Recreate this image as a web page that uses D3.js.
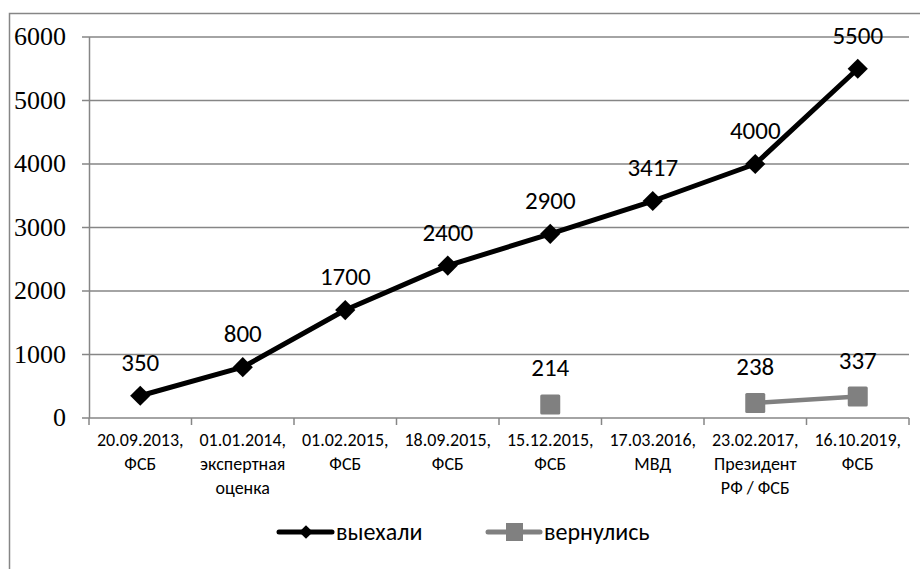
<!DOCTYPE html>
<html>
<head>
<meta charset="utf-8">
<script src="https://d3js.org/d3.v7.min.js"></script>
<style>
  body { margin: 0; background: #fff; }
  svg { display: block; }
</style>
</head>
<body>
<div id="chart"></div>
<script>
// categories (date, source) and the two series
var categories = [
  ["20.09.2013,", "ФСБ"],
  ["01.01.2014,", "экспертная", "оценка"],
  ["01.02.2015,", "ФСБ"],
  ["18.09.2015,", "ФСБ"],
  ["15.12.2015,", "ФСБ"],
  ["17.03.2016,", "МВД"],
  ["23.02.2017,", "Президент", "РФ / ФСБ"],
  ["16.10.2019,", "ФСБ"]
];
var left = [350, 800, 1700, 2400, 2900, 3417, 4000, 5500];
var returned = [null, null, null, null, 214, null, 238, 337];
var yTicks = [0, 1000, 2000, 3000, 4000, 5000, 6000];
var seriesNames = ["выехали", "вернулись"];

var SERIF = "Liberation Serif";
var SANS = "Carlito";

var W = 920, H = 569;
var svg = d3.select("#chart").append("svg")
  .attr("width", W).attr("height", H);

// outer frame (only left and top visible)
svg.append("path")
  .attr("d", "M9.5," + H + "V13.5H" + W)
  .attr("fill", "none").attr("stroke", "#868686").attr("stroke-width", 1.5);

var x = d3.scaleBand().domain(d3.range(categories.length)).range([89, 909]);
var y = d3.scaleLinear().domain([0, 6000]).range([418, 37]);

// gridlines + y ticks
svg.append("g").selectAll("line").data(yTicks).enter().append("line")
  .attr("x1", 82).attr("x2", 909)
  .attr("y1", function(d) { return y(d); }).attr("y2", function(d) { return y(d); })
  .attr("stroke", "#868686").attr("stroke-width", 1.5);

svg.append("g").selectAll("text").data(yTicks).enter().append("text")
  .attr("font-family", SERIF).attr("font-size", 26)
  .attr("x", 66).attr("y", function(d) { return y(d) + 8; })
  .attr("text-anchor", "end").attr("fill", "#000")
  .text(function(d) { return d; });

// y axis line
svg.append("line").attr("x1", 89.5).attr("x2", 89.5).attr("y1", 37).attr("y2", 418)
  .attr("stroke", "#868686").attr("stroke-width", 1.5);

// x ticks
var xt = d3.range(categories.length + 1).map(function(i) { return 89 + i * x.step(); });
svg.append("g").selectAll("line").data(xt).enter().append("line")
  .attr("x1", function(d) { return d; }).attr("x2", function(d) { return d; })
  .attr("y1", 418).attr("y2", 425)
  .attr("stroke", "#868686").attr("stroke-width", 1.5);

// category labels
var catG = svg.append("g").selectAll("text").data(categories).enter().append("text")
  .attr("font-family", SANS).attr("font-size", 18)
  .attr("text-anchor", "middle").attr("fill", "#000");
catG.selectAll("tspan").data(function(d, i) { return d.map(function(s) { return {s: s, i: i}; }); })
  .enter().append("tspan")
  .attr("x", function(d) { return x(d.i) + x.bandwidth() / 2; })
  .attr("y", function(d, j) { return 446 + j * 24; })
  .text(function(d) { return d.s; });

var cx = function(d, i) { return x(i) + x.bandwidth() / 2; };

// series 1: выехали
var line1 = d3.line().x(function(d, i) { return cx(d, i); }).y(function(d) { return y(d); });
svg.append("path").datum(left).attr("d", line1)
  .attr("fill", "none").attr("stroke", "#000").attr("stroke-width", 5)
  .attr("stroke-linejoin", "round");
svg.append("g").selectAll("path").data(left).enter().append("path")
  .attr("d", d3.symbol().type(d3.symbolDiamond2 || d3.symbolDiamond).size(260))
  .attr("transform", function(d, i) { return "translate(" + cx(d, i) + "," + y(d) + ")"; })
  .attr("fill", "#000");
svg.append("g").selectAll("text").data(left).enter().append("text")
  .attr("font-family", SANS).attr("font-size", 25)
  .attr("x", function(d, i) { return cx(d, i); })
  .attr("y", function(d) { return y(d) - 25; })
  .attr("text-anchor", "middle").attr("fill", "#000")
  .text(function(d) { return d; });

// series 2: вернулись
var line2 = d3.line().defined(function(d) { return d != null; })
  .x(function(d, i) { return cx(d, i); }).y(function(d) { return y(d); });
svg.append("path").datum(returned).attr("d", line2)
  .attr("fill", "none").attr("stroke", "#808080").attr("stroke-width", 4.5);
var ret = returned.map(function(d, i) { return {v: d, i: i}; }).filter(function(d) { return d.v != null; });
svg.append("g").selectAll("rect").data(ret).enter().append("rect")
  .attr("x", function(d) { return cx(null, d.i) - 10; })
  .attr("y", function(d) { return y(d.v) - 10; })
  .attr("width", 20).attr("height", 20).attr("rx", 1.5)
  .attr("fill", "#808080");
svg.append("g").selectAll("text").data(ret).enter().append("text")
  .attr("font-family", SANS).attr("font-size", 25)
  .attr("x", function(d) { return cx(null, d.i); })
  .attr("y", function(d) { return y(d.v) - 28; })
  .attr("text-anchor", "middle").attr("fill", "#000")
  .text(function(d) { return d.v; });

// legend
var lg = svg.append("g");
lg.append("line").attr("x1", 279).attr("x2", 332).attr("y1", 532).attr("y2", 532)
  .attr("stroke", "#000").attr("stroke-width", 5).attr("stroke-linecap", "round");
lg.append("path").attr("d", d3.symbol().type(d3.symbolDiamond2 || d3.symbolDiamond).size(120))
  .attr("transform", "translate(306,532)").attr("fill", "#000");
lg.append("text").attr("font-family", SANS).attr("font-size", 24)
  .attr("x", 336).attr("y", 540).text(seriesNames[0]);
lg.append("line").attr("x1", 488).attr("x2", 540).attr("y1", 532).attr("y2", 532)
  .attr("stroke", "#808080").attr("stroke-width", 5).attr("stroke-linecap", "round");
lg.append("rect").attr("x", 506).attr("y", 523).attr("width", 17).attr("height", 18)
  .attr("fill", "#808080");
lg.append("text").attr("font-family", SANS).attr("font-size", 24)
  .attr("x", 544).attr("y", 540).text(seriesNames[1]);
</script>
</body>
</html>
